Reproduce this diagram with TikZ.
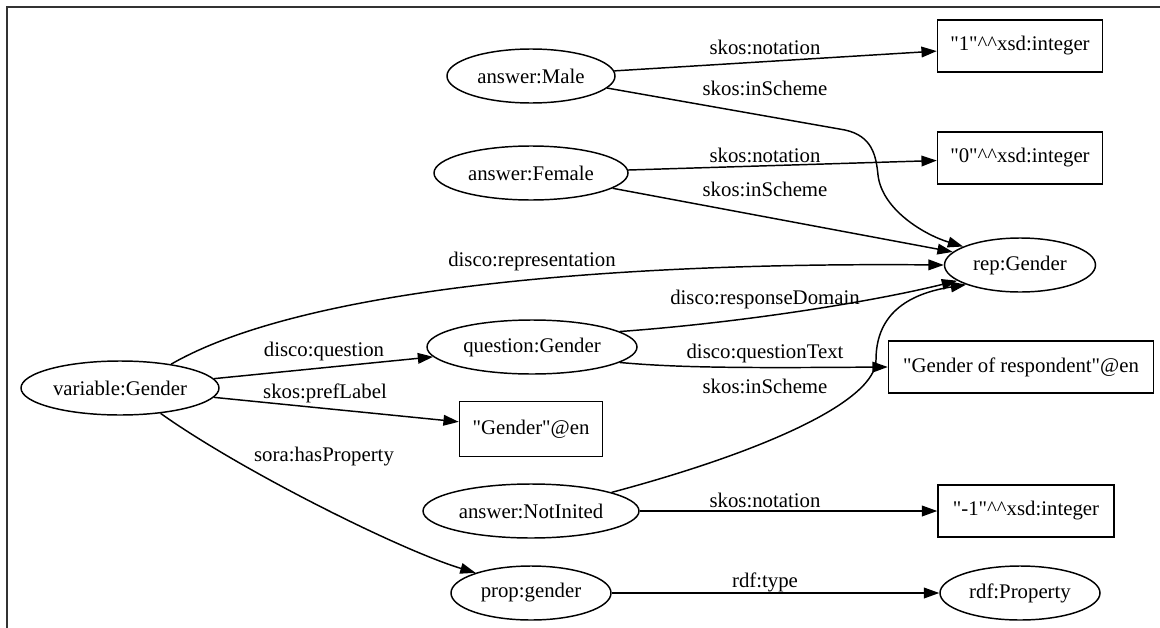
\documentclass[tikz,border=0pt]{standalone}
\usepackage{fontspec}
\setmainfont{LiberationSerif}[Extension=.ttf, UprightFont=*-Regular]
\newfontfamily\gvfont{LiberationSerif}[Extension=.ttf, UprightFont=*-Regular]
\usetikzlibrary{shapes.geometric,arrows.meta}
\newcommand{\qq}{\symbol{34}}
\newcommand{\cc}{\textasciicircum\textasciicircum}
\begin{document}
\begin{tikzpicture}[x=0.75pt,y=-0.75pt,
  every node/.style={font=\gvfont\fontsize{15.6}{18}\selectfont, inner sep=0pt},
  ell/.style={draw, ellipse, line width=1.1pt, minimum height=40.5pt},
  box/.style={draw, rectangle, line width=1.1pt, minimum height=39pt},
  lbl/.style={},
  edge/.style={draw, line width=1.1pt, -{Triangle[length=11.5pt,width=8pt]}}
]
\useasboundingbox (0,0) rectangle (1160,628);
\draw[line width=1pt, black!80] (7,628) -- (7,7) -- (1160,7);

% nodes
\node[ell, minimum width=126pt]   (male)      at (531,76)  {answer:Male};
\node[ell, minimum width=145.5pt] (female)    at (531,173) {answer:Female};
\node[ell, minimum width=113.25pt](rep)       at (1020,265){rep:Gender};
\node[ell, minimum width=148.5pt] (variable)  at (120,388) {variable:Gender};
\node[ell, minimum width=157.5pt] (question)  at (532,347) {question:Gender};
\node[ell, minimum width=162pt]   (notinited) at (531,511) {answer:NotInited};
\node[ell, minimum width=120pt]   (prop)      at (531,593) {prop:gender};
\node[ell, minimum width=120pt]   (rdfprop)   at (1020,593){rdf:Property};

\node[box, minimum width=123.75pt] (one)    at (1020,46)  {\qq1\qq\cc xsd:integer};
\node[box, minimum width=123.75pt] (zero)   at (1020,158) {\qq0\qq\cc xsd:integer};
\node[box, minimum width=198.75pt] (gor)    at (1021,367) {\qq Gender of respondent\qq@en};
\node[box, minimum width=107.25pt, minimum height=41pt] (gen) at (531,429) {\qq Gender\qq@en};
\node[box, minimum width=132pt]    (minus1) at (1026,511) {\qq-1\qq\cc xsd:integer};

% edges
\draw[edge] (male) -- (one);
\draw[edge] (male.-9) -- (845,130) .. controls (872,136) and (876,155) .. (878,175)
            .. controls (882,210) and (925,235) .. (rep.162);
\draw[edge] (female) -- (zero);
\draw[edge] (female) -- (rep.169);
\draw[edge] (variable.25) .. controls (300,290) and (600,262) .. (rep.180);
\draw[edge] (question.10) .. controls (750,322) and (880,300) .. (rep.194);
\draw[edge] (variable) -- (question);
\draw[edge] (question.-10) .. controls (680,368) and (750,368) .. (gor.west);
\draw[edge] (notinited.13) .. controls (770,450) and (876,400) .. (876,360)
            .. controls (876,320) and (900,295) .. (rep.200);
\draw[edge] (variable) -- (gen);
\draw[edge] (variable.-32) .. controls (240,470) and (400,550) .. (prop.160);
\draw[edge] (notinited) -- (minus1);
\draw[edge] (prop) -- (rdfprop);

% labels
\node[lbl] (l1)  at (765,47)  {skos:notation};
\node[lbl] (l2)  at (765,88)  {skos:inScheme};
\node[lbl] (l3)  at (765,155) {skos:notation};
\node[lbl] (l4)  at (765,189) {skos:inScheme};
\node[lbl] (l5)  at (532,261) {disco:representation};
\node[lbl] (l6)  at (765,299) {disco:responseDomain};
\node[lbl] (l7)  at (324,351) {disco:question};
\node[lbl] (l8)  at (765,353) {disco:questionText};
\node[lbl] (l9)  at (765,386) {skos:inScheme};
\node[lbl] (l10) at (325,393) {skos:prefLabel};
\node[lbl] (l11) at (324,457) {sora:hasProperty};
\node[lbl] (l12) at (765,500) {skos:notation};
\node[lbl] (l13) at (765,582) {rdf:type};
\end{tikzpicture}
\end{document}
